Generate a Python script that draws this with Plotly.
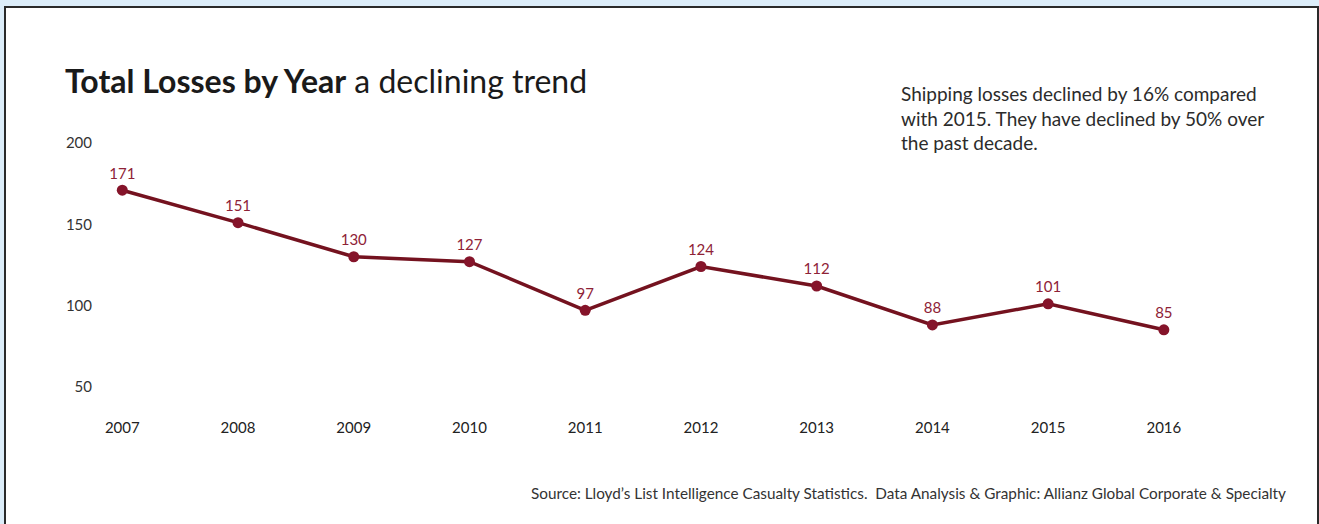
import plotly.graph_objects as go

years = [2007, 2008, 2009, 2010, 2011, 2012, 2013, 2014, 2015, 2016]
losses = [171, 151, 130, 127, 97, 124, 112, 88, 101, 85]
y_ticks = [50, 100, 150, 200]

W, H = 1319, 524
ML, MR, MT, MB = 98, 29, 135, 113
PW = W - ML - MR
PH = H - MT - MB

def xp(px):
    return (px - ML) / PW

def yp(py):
    return (H - MB - py) / PH

line_color = "#74121f"
label_color = "#8e2236"

fig = go.Figure()
fig.add_trace(go.Scatter(
    x=years, y=losses,
    mode="lines+markers+text",
    line=dict(color=line_color, width=3.5),
    marker=dict(color="#85142a", size=11),
    text=[str(v) for v in losses],
    textposition="top center",
    textfont=dict(family="Lato", size=15, color=label_color),
    cliponaxis=False,
    hoverinfo="skip",
))

fig.update_layout(
    width=W, height=H,
    margin=dict(l=ML, r=MR, t=MT, b=MB),
    paper_bgcolor="#dcedf9",
    plot_bgcolor="rgba(0,0,0,0)",
    showlegend=False,
    xaxis=dict(
        range=[2006.79, 2017.09],
        tickmode="array", tickvals=years, ticktext=[str(y) for y in years],
        showgrid=False, zeroline=False, showline=False,
        ticks="outside", ticklen=3, tickcolor="rgba(0,0,0,0)",
        tickfont=dict(family="Lato", size=15, color="#222222"),
    ),
    yaxis=dict(
        range=[35, 205],
        tickmode="array", tickvals=y_ticks, ticktext=[str(v) for v in y_ticks],
        showgrid=False, zeroline=False, showline=False,
        ticks="outside", ticklen=2, tickcolor="rgba(0,0,0,0)",
        tickfont=dict(family="Lato", size=15, color="#333333"),
    ),
    shapes=[
        dict(type="rect", xref="paper", yref="paper",
             x0=xp(5), x1=xp(1318), y0=yp(H + 5), y1=yp(7),
             fillcolor="white", line=dict(color="#2a2a2a", width=2),
             layer="below"),
    ],
    annotations=[
        dict(xref="paper", yref="paper", x=xp(63), y=yp(80),
             xanchor="left", yanchor="middle", showarrow=False,
             text="<b>Total Losses by Year</b> a declining trend",
             font=dict(family="Lato", size=32, color="#1a1a1a")),
        dict(xref="paper", yref="paper", x=xp(899), y=yp(118),
             xanchor="left", yanchor="middle", showarrow=False, align="left",
             text="Shipping losses declined by 16% compared<br>with 2015. They have declined by 50% over<br>the past decade.",
             font=dict(family="Lato", size=19, color="#2b2b2b")),
        dict(xref="paper", yref="paper", x=xp(1288), y=yp(493),
             xanchor="right", yanchor="middle", showarrow=False,
             text="Source: Lloyd’s List Intelligence Casualty Statistics.  Data Analysis & Graphic: Allianz Global Corporate & Specialty",
             font=dict(family="Lato", size=15.3, color="#333333")),
    ],
)

fig.write_html("out.html", config={"displayModeBar": False},
               post_script="document.body.style.margin='0';document.body.style.overflow='hidden';")
